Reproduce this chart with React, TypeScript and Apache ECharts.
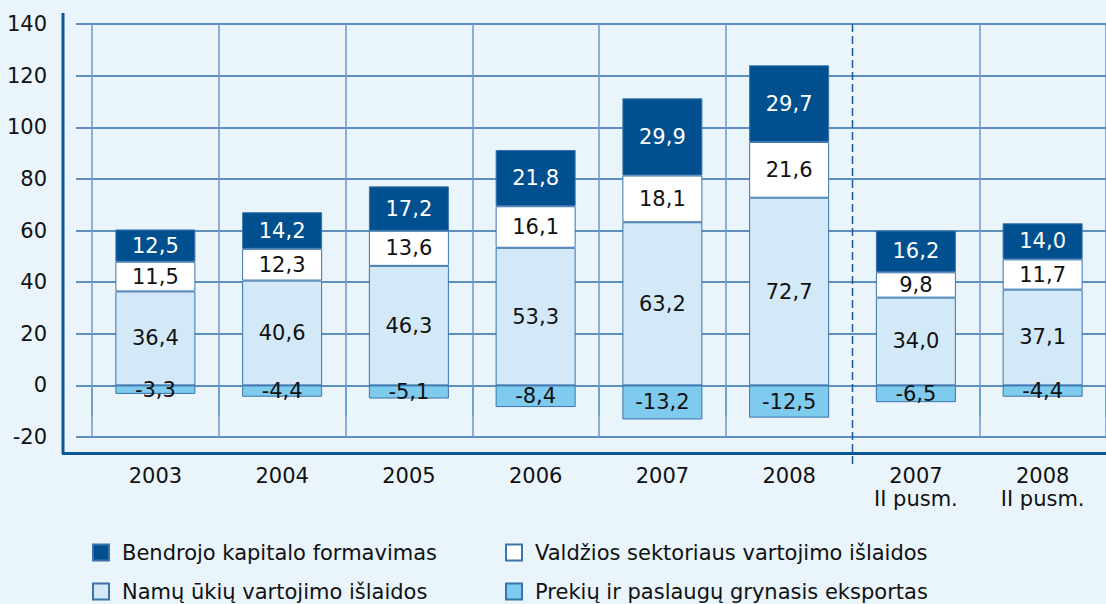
import React, { useEffect, useRef } from "react";
import * as echarts from "echarts";

const categories = ["2003", "2004", "2005", "2006", "2007", "2008", "2007\nII pusm.", "2008\nII pusm."];
const seriesNames = [
  "Namų ūkių vartojimo išlaidos",
  "Valdžios sektoriaus vartojimo išlaidos",
  "Bendrojo kapitalo formavimas",
  "Prekių ir paslaugų grynasis eksportas",
];
const namuUkiu = [36.4, 40.6, 46.3, 53.3, 63.2, 72.7, 34.0, 37.1];
const valdzios = [11.5, 12.3, 13.6, 16.1, 18.1, 21.6, 9.8, 11.7];
const bendrojo = [12.5, 14.2, 17.2, 21.8, 29.9, 29.7, 16.2, 14.0];
const prekiu = [-3.3, -4.4, -5.1, -8.4, -13.2, -12.5, -6.5, -4.4];
const yMin = -20;
const yMax = 140;
const yStep = 20;
const dashedAfterIndex = 5;

const FONT = "DejaVu Sans";
const BG = "#eaf4fb";
const BORDER = "#3a74ac";

const fmt = (v: number) => v.toFixed(1).replace(".", ",");

export default function App() {
  const ref = useRef<HTMLDivElement>(null);
  useEffect(() => {
    if (!ref.current) return;
    const chart = echarts.init(ref.current, undefined, { renderer: "svg" });
    const mkSeries = (name: string, data: number[], color: string, labelColor: string) => ({
      type: "bar",
      name,
      data,
      stack: "total",
      xAxisIndex: 0,
      yAxisIndex: 0,
      barWidth: 80,
      itemStyle: { color, borderColor: BORDER, borderWidth: 1 },
      label: {
        show: true,
        position: "inside",
        color: labelColor,
        fontFamily: FONT,
        fontSize: 21,
        formatter: (p: any) => fmt(p.value),
      },
    });
    const mkLegend = (name: string, left: number, top: number) => ({
      orient: "horizontal",
      left,
      top,
      padding: 0,
      icon: "rect",
      itemWidth: 16,
      itemHeight: 16,
      data: [name],
      textStyle: { color: "#111", fontFamily: FONT, fontSize: 21, lineHeight: 21, padding: [0, 0, 0, 8] },
    });
    chart.setOption({
      animation: false,
      backgroundColor: BG,
      textStyle: { fontFamily: FONT },
      grid: [
        { left: 92, right: -2, top: 24, height: 413 },
        { left: 76, right: 0, top: 24, height: 413 },
      ],
      xAxis: [
        {
          type: "category",
          gridIndex: 0,
          data: categories,
          axisLine: { show: false },
          axisTick: {
            show: true,
            length: 31,
            interval: (i: number) => i !== dashedAfterIndex + 1,
            lineStyle: { color: "#6b9acb", width: 1.5 },
          },
          splitLine: {
            show: true,
            interval: (i: number) => i !== dashedAfterIndex + 1,
            lineStyle: { color: "#6b9acb", width: 1.5 },
          },
          axisLabel: {
            show: true,
            interval: 0,
            margin: 27,
            color: "#111",
            fontFamily: FONT,
            fontSize: 21,
            lineHeight: 23,
          },
        },
        { type: "value", gridIndex: 1, show: false, min: 0, max: 1 },
      ],
      yAxis: [
        { type: "value", gridIndex: 0, min: yMin, max: yMax, interval: yStep, show: false },
        {
          type: "value",
          gridIndex: 1,
          min: yMin,
          max: yMax,
          interval: yStep,
          axisLine: { show: false },
          axisTick: { show: false },
          splitLine: { show: true, lineStyle: { color: "#2e6da8", width: 1.5 } },
          axisLabel: { color: "#111", fontFamily: FONT, fontSize: 21, margin: 29 },
        },
      ],
      legend: [
        mkLegend(seriesNames[2], 92, 542),
        mkLegend(seriesNames[0], 92, 581),
        mkLegend(seriesNames[1], 505, 542),
        mkLegend(seriesNames[3], 505, 581),
      ],
      series: [
        mkSeries(seriesNames[0], namuUkiu, "#d3e9f8", "#111"),
        mkSeries(seriesNames[1], valdzios, "#ffffff", "#111"),
        mkSeries(seriesNames[2], bendrojo, "#00508f", "#ffffff"),
        mkSeries(seriesNames[3], prekiu, "#7fcbee", "#111"),
      ],
    });
    const xa = chart.convertToPixel({ xAxisIndex: 0 }, dashedAfterIndex) as number;
    const xb = chart.convertToPixel({ xAxisIndex: 0 }, dashedAfterIndex + 1) as number;
    const xd = (xa + xb) / 2;
    const yTop = chart.convertToPixel({ yAxisIndex: 0 }, yMax) as number;
    const yBot = (chart.convertToPixel({ yAxisIndex: 0 }, yMin) as number) + 31;
    chart.setOption({
      graphic: [
        {
          type: "line",
          shape: { x1: xd, y1: yTop, x2: xd, y2: yBot },
          style: { stroke: "#1a5a9a", lineWidth: 1.5, lineDash: [8, 4] },
          z: 1,
        },
        {
          type: "line",
          shape: { x1: 63, y1: 13, x2: 63, y2: 454 },
          style: { stroke: "#0b5796", lineWidth: 3 },
          z: 5,
        },
        {
          type: "line",
          shape: { x1: 62, y1: 453.5, x2: 1106, y2: 453.5 },
          style: { stroke: "#0b5796", lineWidth: 3 },
          z: 5,
        },
      ],
    });
    return () => chart.dispose();
  }, []);
  return (
    <div
      ref={ref}
      style={{ position: "absolute", left: 0, top: 0, width: 1106, height: 604, background: BG }}
    />
  );
}
